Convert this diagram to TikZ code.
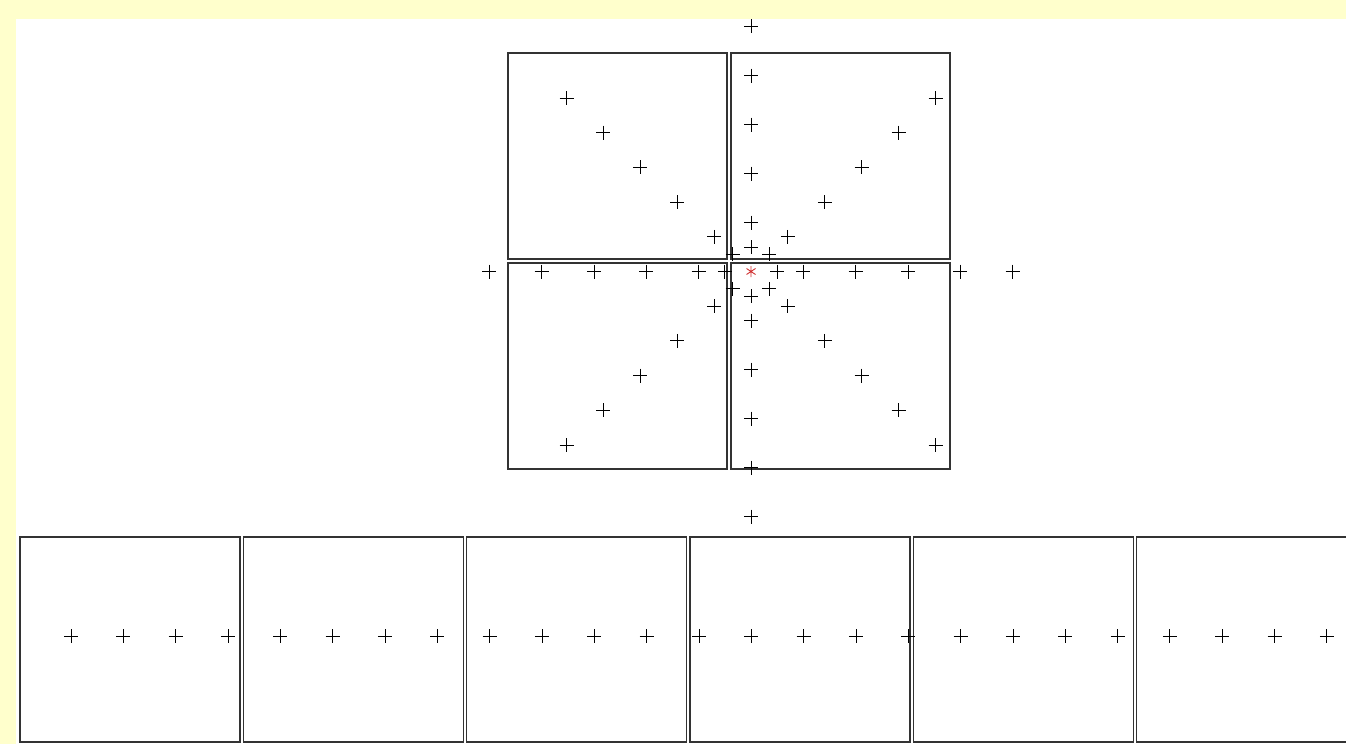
\documentclass[tikz,border=0pt]{standalone}
\definecolor{bgyellow}{HTML}{FFFFCC}
\definecolor{edgegray}{HTML}{333333}
\definecolor{starred}{HTML}{D03030}
\tikzset{
  panel/.style={draw=edgegray, line width=1.2bp},
  crossmark/.style={draw=black, line width=0.9bp},
  starmark/.style={draw=starred, line width=0.9bp}
}
\newcommand{\crossat}[2]{\draw[crossmark] (#1-7,#2) -- (#1+7,#2) (#1,#2-7) -- (#1,#2+7);}
\begin{document}
\begin{tikzpicture}[x=1bp,y=-1bp]
\useasboundingbox (0,0) rectangle (1346,744);
\fill[bgyellow] (0,0) rectangle (1346,744);
\fill[white] (16,19) rectangle (1346,744);
% top quad panels
\draw[panel] (508,53) rectangle (727,259);
\draw[panel] (731,53) rectangle (950,259);
\draw[panel] (508,263) rectangle (727,469);
\draw[panel] (731,263) rectangle (950,469);
% bottom row panels
\foreach \i in {0,...,5} {
  \pgfmathsetmacro{\xl}{20+223.3*\i}
  \draw[panel] (\xl,537) rectangle (\xl+220,742);
}
% crosses along 8 directions
\foreach \k in {0.5,1,2,3,4,5} {
  \pgfmathsetmacro{\hx}{52.33*\k}
  \pgfmathsetmacro{\vy}{49*\k}
  \pgfmathsetmacro{\dx}{36.9*\k}
  \pgfmathsetmacro{\dy}{34.7*\k}
  \crossat{751+\hx}{271.5}
  \crossat{751-\hx}{271.5}
  \crossat{751}{271.5+\vy}
  \crossat{751}{271.5-\vy}
  \crossat{751+\dx}{271.5+\dy}
  \crossat{751-\dx}{271.5+\dy}
  \crossat{751+\dx}{271.5-\dy}
  \crossat{751-\dx}{271.5-\dy}
}
% centre star
\draw[starmark] (751,266) -- (751,277) (746.5,268.5) -- (755.5,274.5) (746.5,274.5) -- (755.5,268.5);
% bottom row crosses
\foreach \k in {0,...,24} {
  \pgfmathsetmacro{\bx}{71+52.33*\k}
  \crossat{\bx}{636}
}
\end{tikzpicture}
\end{document}
